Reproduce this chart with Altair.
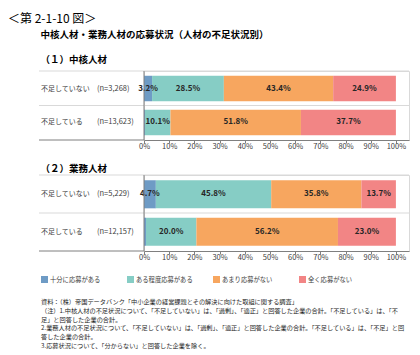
import altair as alt
import pandas as pd

FONT = "Noto Sans CJK JP"

categories = ["十分に応募がある", "ある程度応募がある", "あまり応募がない", "全く応募がない"]
colors = ["#6e9bc5", "#86cdc5", "#f7a65f", "#f28585"]
rows = ["不足していない", "不足している"]

core_n = ["(n=3,268)", "(n=13,623)"]
core_not_short = [3.2, 28.5, 43.4, 24.9]
core_short = [0.4, 10.1, 51.8, 37.7]

ops_n = ["(n=5,229)", "(n=12,157)"]
ops_not_short = [4.7, 45.8, 35.8, 13.7]
ops_short = [0.8, 20.0, 56.2, 23.0]

tick_values = [0, 10, 20, 30, 40, 50, 60, 70, 80, 90, 100]

notes = [
    "資料：（株）帝国データバンク「中小企業の経営課題とその解決に向けた取組に関する調査」",
    "（注）1.中核人材の不足状況について、「不足していない」は、「過剰」、「適正」と回答した企業の合計。「不足している」は、「不",
    "足」と回答した企業の合計。",
    "2.業務人材の不足状況について、「不足していない」は、「過剰」、「適正」と回答した企業の合計。「不足している」は、「不足」と回",
    "答した企業の合計。",
    "3.応募状況について、「分からない」と回答した企業を除く。",
]

PW = 265  # plot width


def make_df(vals_by_row):
    recs = []
    for r, vals in zip(rows, vals_by_row):
        for i, (c, v) in enumerate(zip(categories, vals)):
            recs.append({"row": r, "cat": c, "idx": i, "value": v})
    return pd.DataFrame(recs)


def x_axis():
    return alt.Axis(values=tick_values, labelExpr="datum.value + '%'",
                    grid=False, tickSize=3, labelFontSize=7.5,
                    labelColor="#404040", labelPadding=-1,
                    labelOverlap=False, labelFlush=False,
                    domainColor="#7f7f7f", tickColor="#7f7f7f",
                    labelFont=FONT)


def panel(vals_by_row, nlabels, h, title, legend, extra=None):
    df = make_df(vals_by_row)
    ndf = pd.DataFrame({"row": rows, "n": nlabels})
    dummy = pd.DataFrame({"k": [0]})
    y = alt.Y("row:N", sort=rows, axis=None,
              scale=alt.Scale(paddingInner=0.25, paddingOuter=0.14))
    base = alt.Chart(df).transform_stack(
        stack="value", groupby=["row"], as_=["x0", "x1"],
        sort=[alt.SortField("idx", order="ascending")])
    xscale = alt.Scale(domain=[0, 105.2], nice=False, zero=False)
    bars = base.mark_bar().encode(
        x=alt.X("x0:Q", scale=xscale, title=None, axis=x_axis()),
        x2="x1:Q",
        y=y,
        color=alt.Color("cat:N", scale=alt.Scale(domain=categories, range=colors),
                        legend=legend),
    )
    labels = base.transform_filter("datum.value >= 1").transform_calculate(
        mid="(datum.x0 + datum.x1) / 2",
        lab="format(datum.value, '.1f') + '%'",
    ).mark_text(fontWeight="bold", fontSize=8, color="#262626", font=FONT).encode(
        x=alt.X("mid:Q", scale=xscale, title=None, axis=x_axis()), y=y, text="lab:N")
    rlab = alt.Chart(ndf).mark_text(align="left", fontSize=7, color="#404040", font=FONT).encode(
        x=alt.value(-103), y=y, text="row:N")
    nlab = alt.Chart(ndf).mark_text(align="left", fontSize=7.5, color="#404040", font=FONT).encode(
        x=alt.value(-47), y=y, text="n:N")
    top_line = alt.Chart(dummy).mark_rule(color="#d9d9d9").encode(
        x=alt.value(-105), x2=alt.value(PW), y=alt.value(0))
    mid_line = alt.Chart(dummy).mark_rule(color="#d9d9d9").encode(
        x=alt.value(-105), x2=alt.value(PW), y=alt.value(h / 2))
    bot_line = alt.Chart(dummy).mark_rule(color="#7f7f7f").encode(
        x=alt.value(-105), x2=alt.value(0), y=alt.value(h))
    left_line = alt.Chart(dummy).mark_rule(color="#7f7f7f").encode(
        x=alt.value(0), y=alt.value(0), y2=alt.value(h))
    layers = [top_line, mid_line, bot_line, bars, labels, left_line, rlab, nlab]
    if extra is not None:
        layers.append(extra)
    return alt.layer(*layers).properties(width=PW, height=h, title=title)


title1 = alt.TitleParams(
    text="中核人材・業務人材の応募状況（人材の不足状況別）",
    subtitle="（１）中核人材",
    anchor="start", frame="bounds", fontSize=9.5, subtitleFontSize=9.5,
    fontWeight="bold", subtitleFontWeight="bold", color="#000000",
    subtitleColor="#000000", subtitlePadding=16, offset=6, dx=2,
    font=FONT, subtitleFont=FONT)
title2 = alt.TitleParams(
    text="（２）業務人材", anchor="start", frame="bounds", fontSize=9.5,
    fontWeight="bold", color="#000000", offset=1, dx=2, font=FONT)

legend2 = alt.Legend(orient="none", legendX=-103, legendY=101, direction="horizontal",
                     columns=4, gridAlign="all", columnPadding=20, symbolType="square",
                     symbolSize=49, symbolStrokeWidth=0, labelFontSize=6.3, labelOffset=2,
                     labelColor="#404040", title=None, labelFont=FONT, labelLimit=0)

H2 = 76
notes_layer = alt.Chart(pd.DataFrame({"k": [0]})).mark_text(
    align="left", baseline="top", fontSize=6.2, lineHeight=8.8, lineBreak="\n",
    color="#262626", font=FONT).encode(
    x=alt.value(-103), y=alt.value(H2 + 48), text=alt.value("\n".join(notes)))

p1 = panel([core_not_short, core_short], core_n, 69, title1, None)
p2 = panel([ops_not_short, ops_short], ops_n, H2, title2, legend2, notes_layer)

chart = alt.vconcat(p1, p2, spacing=13).resolve_legend(
    color="independent").properties(
    title=alt.TitleParams(text="＜第 2-1-10 図＞", anchor="start", frame="bounds",
                          fontSize=12, fontWeight="normal", color="#000000",
                          offset=3, dx=-30, font=FONT),
    padding={"left": 0, "top": 5, "right": 0, "bottom": 0},
).configure_view(stroke="#d9d9d9")

chart.save("out.html", embed_options={"renderer": "svg", "actions": False})
